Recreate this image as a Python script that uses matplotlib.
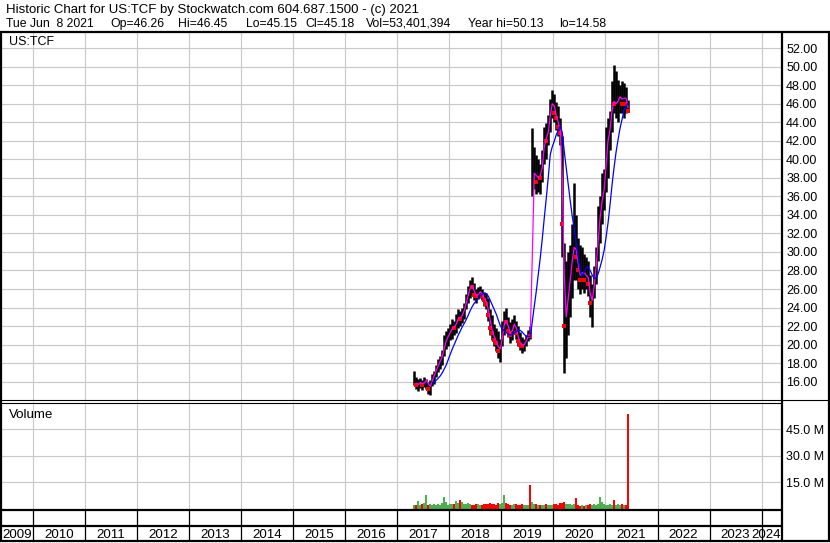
import numpy as np
import pandas as pd
import matplotlib
matplotlib.use("Agg")
import matplotlib.pyplot as plt

plt.rcParams['font.family'] = ['Liberation Sans', 'DejaVu Sans']

# biweekly bars, May 2017 .. Jun 8 2021
dates = pd.date_range(end='2021-06-08', periods=108, freq='14D')

hi = [17.1, 16.5, 16.3, 16.4, 16.2, 16.5, 16.3, 16.0, 16.2, 16.8,
      17.2, 17.8, 18.4, 18.8, 19.4, 21.0, 21.5, 21.8, 22.2, 22.8,
      22.6, 23.3, 23.8, 23.6, 24.0, 24.5, 25.5, 26.3, 27.0, 27.3,
      26.6, 26.0, 26.2, 26.3, 26.0, 25.7, 25.6, 25.0, 23.8, 23.2,
      22.2, 21.8, 21.5, 20.6, 22.5, 23.6, 24.0, 23.0, 22.4, 22.8,
      23.2, 22.6, 22.0, 21.4, 20.8, 20.6, 21.0, 21.6, 22.0, 43.4,
      41.3, 40.5, 40.0, 39.5, 41.0, 43.5, 43.9, 44.8, 46.5, 47.5,
      47.0, 46.2, 45.8, 44.5, 42.5, 31.0, 29.0, 30.0, 30.8, 33.0,
      37.4, 34.0, 31.5, 30.8, 30.5, 29.8, 29.5, 29.0, 27.5, 26.5,
      28.5, 30.5, 35.0, 36.0, 38.5, 39.0, 43.5, 44.5, 45.2, 48.5,
      50.2, 49.5, 48.6, 48.0, 48.5, 48.2, 47.8, 46.45]
lo = [15.6, 15.2, 15.0, 15.3, 15.1, 15.4, 15.2, 14.7, 14.6, 15.5,
      15.8, 16.5, 17.0, 17.4, 17.8, 18.8, 19.5, 19.8, 20.5, 20.6,
      21.0, 21.3, 21.8, 22.0, 22.3, 22.8, 23.8, 24.5, 25.0, 25.3,
      24.8, 24.5, 24.9, 25.0, 24.8, 24.2, 23.8, 22.5, 21.0, 20.5,
      19.8, 19.3, 18.6, 18.1, 19.8, 21.0, 21.5, 20.8, 20.2, 20.5,
      21.2, 20.6, 19.8, 19.4, 19.1, 19.3, 19.8, 20.4, 20.6, 36.0,
      36.8, 36.3, 36.5, 36.3, 37.5, 39.5, 40.0, 41.5, 43.0, 44.5,
      44.0, 43.2, 42.5, 41.5, 29.5, 16.9, 18.5, 21.0, 23.0, 25.0,
      27.0, 27.0, 26.0, 25.5, 26.0, 25.6, 26.0, 25.2, 23.0, 21.9,
      25.0, 26.5, 29.0, 31.0, 33.0, 34.5, 36.5, 38.0, 41.0, 43.0,
      45.0, 44.5, 44.0, 45.0, 45.0, 44.5, 45.0, 45.15]
close = [16.0, 15.6, 15.8, 16.0, 15.6, 16.1, 16.3, 15.2, 15.8, 16.4,
         17.0, 17.5, 18.0, 18.5, 19.0, 20.3, 20.6, 21.2, 21.5, 22.0,
         21.8, 22.7, 23.0, 22.8, 23.5, 24.0, 25.0, 25.8, 26.5, 26.2,
         25.3, 25.2, 25.6, 25.8, 25.2, 24.8, 24.4, 23.2, 21.8, 21.2,
         20.5, 20.2, 19.3, 19.8, 21.6, 22.8, 22.4, 21.5, 21.0, 22.0,
         22.4, 21.2, 20.4, 20.0, 19.8, 20.2, 20.6, 21.2, 20.9, 38.0,
         39.0, 37.5, 38.5, 38.0, 40.2, 42.5, 42.0, 43.8, 45.5, 46.5,
         45.0, 44.5, 43.5, 42.8, 33.0, 22.0, 24.0, 26.0, 28.0, 30.0,
         31.0, 29.5, 28.0, 27.0, 28.5, 27.0, 28.0, 26.5, 24.5, 25.0,
         27.5, 29.5, 33.0, 34.5, 36.5, 37.0, 41.5, 42.5, 44.0, 46.5,
         46.0, 46.0, 46.5, 47.0, 46.0, 47.2, 46.0, 45.18]
vol_m = [1.8, 2.2, 4.2, 2.0, 2.5, 3.0, 7.9, 2.2, 2.8, 2.0,
         2.5, 2.0, 2.3, 2.0, 3.0, 6.6, 3.5, 2.2, 2.6, 2.8,
         2.4, 4.2, 3.2, 5.1, 3.8, 2.4, 2.8, 3.0, 2.6, 2.2,
         2.0, 2.4, 2.8, 2.2, 2.0, 2.5, 2.3, 2.8, 3.0, 2.6,
         2.4, 2.2, 3.2, 2.8, 3.0, 7.9, 3.0, 2.6, 2.2, 2.0,
         2.4, 2.8, 2.2, 2.0, 2.5, 2.2, 1.8, 2.0, 13.6, 3.5,
         2.6, 2.4, 2.0, 1.8, 2.2, 2.0, 2.5, 1.8, 2.0, 2.2,
         2.8, 2.4, 2.2, 3.0, 3.2, 3.5, 2.8, 2.4, 2.6, 2.2,
         2.4, 5.7, 2.0, 1.5, 1.8, 1.6, 2.2, 2.0, 2.4, 2.0,
         2.6, 2.2, 2.8, 6.6, 3.6, 2.4, 2.2, 2.0, 2.6, 2.2,
         4.6, 2.0, 2.4, 2.2, 2.6, 2.0, 1.8, 53.4]

years = list(range(2009, 2025))
price_ticks = list(range(16, 53, 2))
vol_ticks = [15, 30, 45]

title = "Historic Chart for US:TCF by Stockwatch.com 604.687.1500 - (c) 2021"
quote = ["Tue Jun  8 2021", "Op=46.26", "Hi=46.45", "Lo=45.15", "Cl=45.18",
         "Vol=53,401,394", "Year hi=50.13", "lo=14.58"]
quote_x = [6, 110, 178, 246, 305, 366, 468, 559]   # pixel positions

# decimal years for x
t = np.array(dates.year + (dates.dayofyear - 1) / 365.25)
hi = np.array(hi); lo = np.array(lo); close = np.array(close)
vol_m = np.array(vol_m)
cs = pd.Series(close)
ma_fast = cs.rolling(2).mean()
ma_slow = cs.rolling(10).mean()
down = np.r_[False, close[1:] < close[:-1]]

W, H = 830, 543
def rect(x0, y0, x1, y1):
    return [x0 / W, 1 - y1 / H, (x1 - x0) / W, (y1 - y0) / H]

X0, X1 = 2009.41, 2024.39
grid_c = '#c8c8c8'
fs = 9

fig = plt.figure(figsize=(W / 100, H / 100), dpi=100)

# price panel
ax = fig.add_axes(rect(2, 32, 782, 400))
ax.set_xlim(X0, X1)
ax.set_ylim(14.02, 53.74)
ax.set_xticks(years[1:])
ax.set_yticks(price_ticks)
ax.set_yticklabels(['%.2f' % v for v in price_ticks])
ax.grid(True, color=grid_c, lw=0.8)
ax.set_axisbelow(True)
ax.yaxis.tick_right()
ax.tick_params(length=0, labelbottom=False, pad=3, labelsize=fs)
for s in ax.spines.values():
    s.set_visible(False)
ax.vlines(t, lo, hi, color='black', lw=1.8, zorder=2)
ax.plot(t[down], close[down], 's', color='red', ms=2.2, mew=0, zorder=3)
ax.plot(t, ma_fast, color='#ff00ff', lw=0.9, zorder=4)
ax.plot(t, ma_slow, color='#0000ff', lw=0.9, zorder=4)

# volume panel
axv = fig.add_axes(rect(2, 402, 782, 508.5))
axv.set_xlim(X0, X1)
axv.set_ylim(0, 60.5)
axv.set_xticks(years[1:])
axv.set_yticks(vol_ticks)
axv.set_yticklabels(['%.1f M' % v for v in vol_ticks])
axv.grid(True, color=grid_c, lw=0.8)
axv.set_axisbelow(True)
axv.yaxis.tick_right()
axv.tick_params(length=0, labelbottom=False, pad=3, labelsize=fs)
for s in axv.spines.values():
    s.set_visible(False)
vcol = np.where(down, '#ff0000', '#4caf50')
axv.bar(t, vol_m, width=0.0385, color=vcol, lw=0)

# year strip
axy = fig.add_axes(rect(2, 509, 782, 541))
axy.set_xlim(X0, X1)
axy.set_ylim(32, 0)
axy.axis('off')
axy.vlines(years[1:], 0, 32, color='black', lw=0.9)
yfs = 9.6
for y in years:
    if y == years[0]:
        axy.text(X0 + 0.01, 25.5, str(y), ha='left', va='center', fontsize=yfs)
    elif y == years[-1]:
        axy.text(X1 - 0.02, 25.5, str(y), ha='right', va='center', fontsize=yfs)
    else:
        axy.text(y + 0.5, 25.5, str(y), ha='center', va='center', fontsize=yfs)

# frame lines (pixel coordinates)
ov = fig.add_axes([0, 0, 1, 1])
ov.set_xlim(0, W)
ov.set_ylim(H, 0)
ov.axis('off')
ov.patch.set_visible(False)
k = dict(color='black', solid_capstyle='butt')
ov.plot([0, W], [31.5, 31.5], lw=1.6, **k)
ov.plot([1, 1], [31, 541], lw=1.6, **k)
ov.plot([828.5, 828.5], [31, 541], lw=1.6, **k)
ov.plot([0, W], [540.5, 540.5], lw=1.6, **k)
ov.plot([782, 782], [31, 541], lw=1.6, **k)
ov.plot([0, 829], [400, 400], lw=0.8, **k)
ov.plot([0, 782], [402.5, 402.5], lw=0.8, **k)
ov.plot([0, 782], [509.5, 509.5], lw=1.6, **k)
ov.plot([0, 782], [526, 526], lw=1.6, **k)

fig.text(6 / W, 1 - 13 / H, title, va='baseline', fontsize=9.5)
for s, x in zip(quote, quote_x):
    fig.text(x / W, 1 - 27 / H, s, va='baseline', fontsize=8.8)
fig.text(9 / W, 1 - 45 / H, 'US:TCF', va='baseline', fontsize=fs)
fig.text(9 / W, 1 - 418 / H, 'Volume', va='baseline', fontsize=9.6)

fig.savefig('out.png', dpi=100)
